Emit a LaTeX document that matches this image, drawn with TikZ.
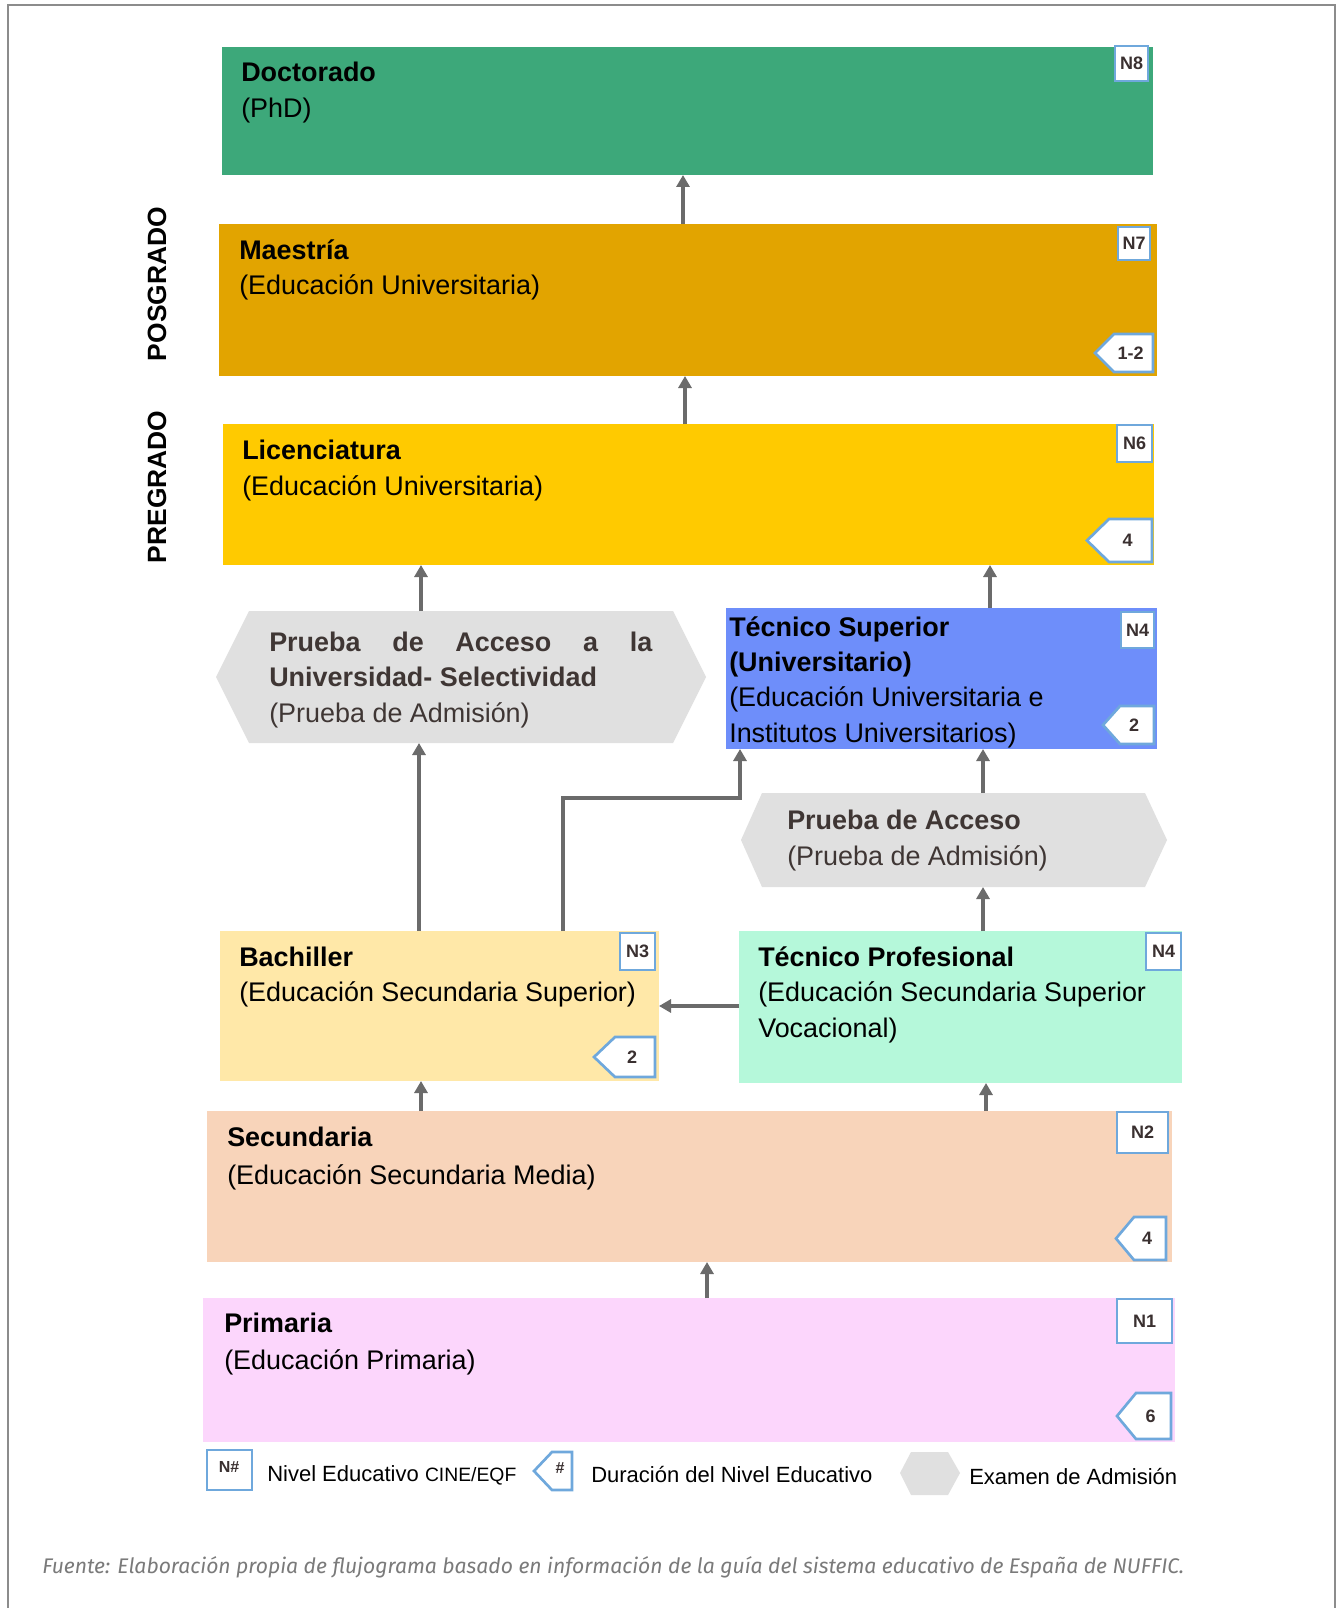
\documentclass[tikz,border=0pt]{standalone}
\usepackage{fontspec}
\setmainfont{Liberation Sans}
\newfontfamily\footfont{Fira Sans}
\usetikzlibrary{arrows.meta,fit}

\definecolor{cDoc}{HTML}{3DA87A}
\definecolor{cMae}{HTML}{E2A400}
\definecolor{cLic}{HTML}{FFCA00}
\definecolor{cTS}{HTML}{6E8EFA}
\definecolor{cGray}{HTML}{E0E0E0}
\definecolor{cBach}{HTML}{FFE8A8}
\definecolor{cTP}{HTML}{B5F8DA}
\definecolor{cSec}{HTML}{F8D4BA}
\definecolor{cPri}{HTML}{FCD6FC}
\definecolor{cBlue}{HTML}{6FA8DC}
\definecolor{cArr}{HTML}{6B6B6B}
\definecolor{cFrame}{HTML}{8C8C8C}
\definecolor{cPTxt}{HTML}{3F3634}
\definecolor{cNum}{HTML}{3A3030}
\definecolor{cFoot}{HTML}{7A7A7A}

\newcommand\durtag[7]{%
  \draw[tagline] (#2,{(#4+#5)/2}) -- ({#2+#6},#4) -- (#3,#4) -- (#3,#5) -- ({#2+#6},#5) -- cycle;
  \node[tagtxt] (#1) at ({(#2+#6+#3)/2-3},{(#4+#5)/2}) {#7};}
\newcommand\lvbadge[6]{%
  \node[badge, fit={(#2,#3) (#4,#5)}] (#1) {};
  \node[tagtxt] (#1t) at (#1.center) {#6};}

\begin{document}
\begin{tikzpicture}[x=0.75pt,y=-0.75pt,
  blk/.style={inner sep=0pt, outer sep=0pt, draw=none},
  ttl/.style={anchor=base west, inner sep=0pt, font=\fontsize{20.2}{24}\selectfont\bfseries},
  sub/.style={anchor=base west, inner sep=0pt, font=\fontsize{20.2}{24}\selectfont},
  badge/.style={draw=cBlue, line width=2pt, fill=white, inner sep=0pt, outer sep=0pt},
  tagline/.style={draw=cBlue, line width=2pt, fill=white, line join=miter},
  tagtxt/.style={inner sep=0pt, font=\fontsize{13.5}{16}\selectfont\bfseries, text=cNum},
  hexa/.style={fill=cGray, draw=none},
  arr/.style={draw=cArr, line width=2.5pt, -{Triangle[width=9.75pt,length=9pt]}},
  legtxt/.style={anchor=base west, inner sep=0pt, font=\fontsize{16.5}{20}\selectfont},
  vlab/.style={rotate=90, inner sep=0pt, font=\fontsize{19.8}{24}\selectfont\bfseries},
]
\useasboundingbox (0,0) rectangle (1338,1608);
\fill[white] (0,0) rectangle (1338,1608);
\draw[cFrame, line width=1.6pt] (8,1612) -- (8,5) -- (1335,5) -- (1335,1612);

% ---- boxes
\node[blk, fill=cDoc, fit={(222,47) (1153,175)}] (doc) {};
\node[blk, fill=cMae, fit={(219,224) (1157,376)}] (mae) {};
\node[blk, fill=cLic, fit={(223,424) (1154,565)}] (lic) {};
\node[blk, fill=cTS, fit={(726,608) (1157,749)}] (ts) {};
\node[blk, fill=cBach, fit={(220,931) (659,1081)}] (bach) {};
\node[blk, fill=cTP, fit={(739,931) (1182,1083)}] (tp) {};
\node[blk, fill=cSec, fit={(207,1111) (1172,1262)}] (sec) {};
\node[blk, fill=cPri, fit={(203,1298) (1175,1442)}] (pri) {};

% ---- hexagons (admission tests)
\path[hexa] (216,677) -- (249,611) -- (673,611) -- (706,677) -- (673,743) -- (249,743) -- cycle;
\node[blk, fit={(216,611) (706,743)}] (pau) {};
\path[hexa] (741,840) -- (762,793) -- (1145,793) -- (1167,840) -- (1145,887) -- (762,887) -- cycle;
\node[blk, fit={(741,793) (1167,887)}] (pa) {};

% ---- texts
\node[ttl] (tdoc1) at (241,82) {Doctorado};
\node[sub] (tdoc2) at (241,118) {(PhD)};
\node[ttl] (tmae1) at (239,260) {Maestría};
\node[sub] (tmae2) at (239,295) {(Educación Universitaria)};
\node[ttl] (tlic1) at (242,459) {Licenciatura};
\node[sub] (tlic2) at (242,495) {(Educación Universitaria)};
\node[ttl] (tts1) at (729,636) {Técnico Superior};
\node[ttl] (tts2) at (729,671) {(Universitario)};
\node[sub] (tts3) at (729,706) {(Educación Universitaria e};
\node[sub] (tts4) at (729,742) {Institutos Universitarios)};
\node[ttl, text=cPTxt] (tpau1) at (269,651) {\hbox to 287.25pt{Prueba\hfill de\hfill Acceso\hfill a\hfill la}};
\node[ttl, text=cPTxt] (tpau2) at (269,686) {Universidad- Selectividad};
\node[sub, text=cPTxt] (tpau3) at (269,722) {(Prueba de Admisión)};
\node[ttl, text=cPTxt] (tpa1) at (787,829) {Prueba de Acceso};
\node[sub, text=cPTxt] (tpa2) at (787,865) {(Prueba de Admisión)};
\node[ttl] (tbach1) at (239,966) {Bachiller};
\node[sub] (tbach2) at (239,1001) {(Educación Secundaria Superior)};
\node[ttl] (ttp1) at (758,966) {Técnico Profesional};
\node[sub] (ttp2) at (758,1001) {(Educación Secundaria Superior};
\node[sub] (ttp3) at (758,1037) {Vocacional)};
\node[ttl] (tsec1) at (227,1146) {Secundaria};
\node[sub] (tsec2) at (227,1184) {(Educación Secundaria Media)};
\node[ttl] (tpri1) at (224,1332) {Primaria};
\node[sub] (tpri2) at (224,1369) {(Educación Primaria)};

% ---- side labels
\node[vlab] (lpos) at (157,284) {POSGRADO};
\node[vlab] (lpre) at (157,487) {PREGRADO};

% ---- level badges
\lvbadge{n8}{1115}{46}{1148}{81}{N8}
\lvbadge{n7}{1118}{227}{1150}{260}{N7}
\lvbadge{n6}{1117}{425}{1152}{462}{N6}
\lvbadge{n4a}{1121}{612}{1154}{648}{N4}
\lvbadge{n3}{620}{933}{655}{970}{N3}
\lvbadge{n4b}{1146}{933}{1181}{970}{N4}
\lvbadge{n2}{1117}{1112}{1168}{1153}{N2}
\lvbadge{n1}{1117}{1299}{1172}{1343}{N1}

% ---- duration tags
\durtag{d7}{1095}{1153}{334}{372}{19}{1-2}
\durtag{d6}{1087}{1152}{519}{562}{22}{4}
\durtag{d4}{1103}{1154}{706}{744}{17}{2}
\durtag{d3}{594}{655}{1037}{1077}{21}{2}
\durtag{d2}{1116}{1166}{1217}{1260}{18}{4}
\durtag{d1}{1117}{1171}{1393}{1439}{19}{6}

% ---- connectors
\coordinate (x683) at (683,0);
\coordinate (x685) at (685,0);
\coordinate (x421) at (421,0);
\coordinate (x419) at (419,0);
\coordinate (x990) at (990,0);
\coordinate (x983) at (983,0);
\coordinate (x986) at (986,0);
\coordinate (x707) at (707,0);
\coordinate (x563) at (563,0);
\coordinate (elb) at (740,798);
\coordinate (y1006) at (0,1006);

\draw[arr] (mae.north -| x683) -- (doc.south -| x683);
\draw[arr] (lic.north -| x685) -- (mae.south -| x685);
\draw[arr] (pau.north -| x421) -- (lic.south -| x421);
\draw[arr] (ts.north -| x990) -- (lic.south -| x990);
\draw[arr] (bach.north -| x419) -- (pau.south -| x419);
\draw[arr] (bach.north -| x563) |- (elb) -- (ts.south -| elb);
\draw[arr] (pa.north -| x983) -- (ts.south -| x983);
\draw[arr] (tp.north -| x983) -- (pa.south -| x983);
\draw[arr] (tp.west |- y1006) -- (bach.east |- y1006);
\draw[arr] (sec.north -| x421) -- (bach.south -| x421);
\draw[arr] (sec.north -| x986) -- (tp.south -| x986);
\draw[arr] (pri.north -| x707) -- (sec.south -| x707);

% ---- legend
\node[badge, fit={(207,1450) (252,1490)}] (lgbox) {};
\node[tagtxt, font=\fontsize{12}{14}\selectfont\bfseries] (lgboxt) at (229,1467) {N\#};
\node[legtxt] (lg1) at (267,1481) {Nivel Educativo {\fontsize{14.5}{16}\selectfont CINE/EQF}};
\draw[tagline] (534,1471) -- (552,1452) -- (572,1452) -- (572,1490) -- (552,1490) -- cycle;
\node[tagtxt, font=\fontsize{12}{14}\selectfont\bfseries] (lgtag) at (560,1468) {\#};
\node[legtxt] (lg2) at (591,1482) {Duración del Nivel Educativo};
\path[hexa] (900,1473) -- (911,1452) -- (948,1452) -- (960,1473) -- (948,1495) -- (911,1495) -- cycle;
\node[blk, fit={(900,1452) (960,1495)}] (lghex) {};
\node[legtxt] (lg3) at (969,1484) {Examen de Admisión};

% ---- footer
\node[anchor=base west, inner sep=0pt, text=cFoot, font=\footfont\itshape\fontsize{15.85}{20}\selectfont] (foot) at (42,1573)
  {Fuente: Elaboración propia de flujograma basado en información de la guía del sistema educativo de España de NUFFIC.};
\end{tikzpicture}
\end{document}
